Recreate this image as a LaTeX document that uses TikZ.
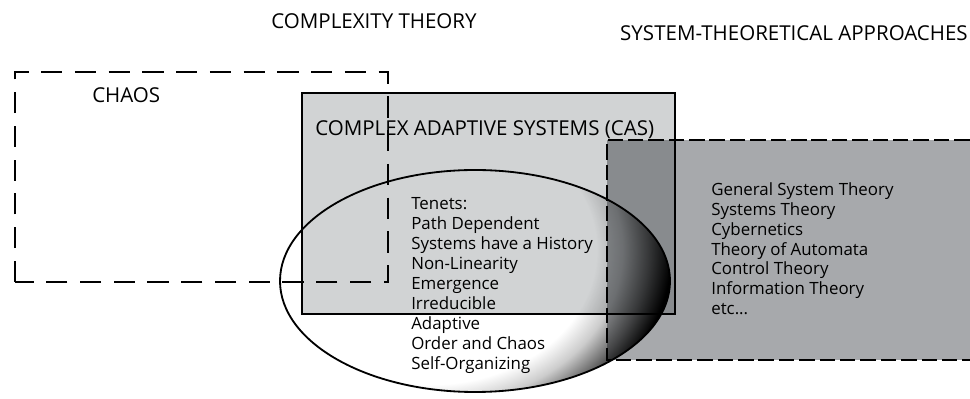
\documentclass[tikz,border=0pt]{standalone}
\usepackage{fontspec}
\setmainfont{Open Sans}

\definecolor{casgray}{HTML}{D1D3D4}
\definecolor{sysgray}{HTML}{A7A9AC}
% white in the middle, black at the rim
\pgfdeclareradialshading{tenetshade}{\pgfpointorigin}{color(0bp)=(white); color(16bp)=(white); color(18.5bp)=(black!20); color(21bp)=(black!60); color(23.25bp)=(black); color(50bp)=(black)}

\tikzset{
  label/.style = {inner sep=0pt, font=\fontsize{14.6}{17}\selectfont},
  list/.style = {inner sep=0pt, align=left, font=\fontsize{12}{14.2}\selectfont},
  chaosline/.style = {line width=1.4pt, dash pattern=on 15pt off 9pt},
  sysline/.style = {line width=1.3pt, dash pattern=on 11pt off 3.5pt}
}

\begin{document}
\begin{tikzpicture}[x=0.025cm, y=0.025cm]
\useasboundingbox (0,0) rectangle (970,399);
\clip (0,0) rectangle (970,399);

% fills
\fill[casgray] (302,85) rectangle (675,306);
\fill[sysgray, blend mode=multiply] (607,39) rectangle (990,259);
\begin{scope}
  \clip (475,118) ellipse (195 and 111);
  \shade[shading=tenetshade, blend mode=multiply] (430,149) ellipse (260 and 210);
\end{scope}

% outlines
\draw[line width=1.1pt] (302,85) rectangle (675,306);
\draw[sysline] (990,259) -- (607,259) -- (607,39) -- (990,39);
\draw[line width=1.3pt] (475,118) ellipse (195 and 111);
\draw[chaosline] (15,117) rectangle (388,327);

% labels
\node[label] (complexity) at (374,378) {COMPLEXITY THEORY};
\node[label, anchor=east] (systheory) at (968,366) {SYSTEM-THEORETICAL APPROACHES};
\node[label, anchor=west] (chaos) at (92,304) {CHAOS};
\node[label, anchor=west] (cas) at (315,269) {COMPLEX ADAPTIVE SYSTEMS (CAS)};

\node[list, anchor=north west] (tenets) at (411,202) {Tenets:\\Path Dependent\\Systems have a History\\Non-Linearity\\Emergence\\Irreducible\\Adaptive\\Order and Chaos\\Self-Organizing};
\node[list, anchor=north west] (approaches) at (711,217) {General System Theory\\Systems Theory\\Cybernetics\\Theory of Automata\\Control Theory\\Information Theory\\etc...};
\end{tikzpicture}
\end{document}
